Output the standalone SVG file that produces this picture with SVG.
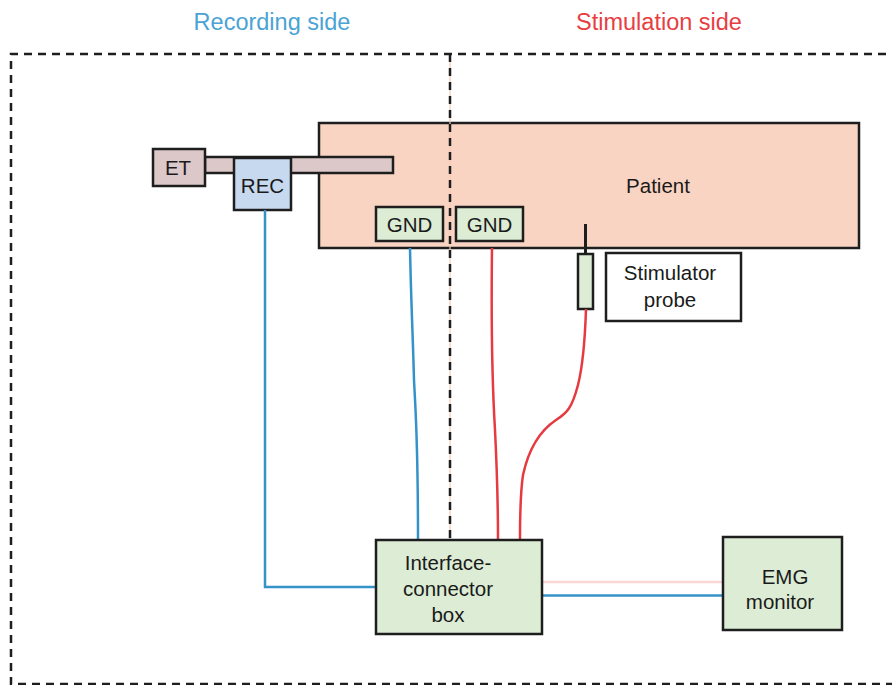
<svg xmlns="http://www.w3.org/2000/svg" width="892" height="685" viewBox="0 0 892 685">
  <style>
    .box { stroke: #1e1e1e; stroke-width: 2.5; }
    .lbl { font-family: "Liberation Sans", Arial, sans-serif; font-size: 20.5px; fill: #1a1a1a; text-anchor: middle; }
    .head { font-family: "Liberation Sans", Arial, sans-serif; font-size: 23.5px; text-anchor: middle; }
    .frame { fill: none; stroke: #1e1e1e; stroke-width: 2.5; stroke-dasharray: 8 6; }
    .blue { fill: none; stroke: #3592c8; stroke-width: 2.5; }
    .red { fill: none; stroke: #e63a40; stroke-width: 2.5; }
    .green { fill: #dcecd5; }
  </style>

  <rect width="892" height="685" fill="#ffffff"/>

  <!-- headings -->
  <text class="head" x="272" y="30" fill="#4aa3d4">Recording side</text>
  <text class="head" x="659" y="30" fill="#e83d42">Stimulation side</text>

  <!-- patient -->
  <g id="patient">
    <rect class="box" x="319" y="123" width="540" height="125" fill="#fad4c3"/>
    <text class="lbl" x="658" y="193">Patient</text>
  </g>

  <!-- endotracheal tube -->
  <g id="et">
    <rect class="box" x="205" y="157" width="188" height="16" fill="#dcc8c8"/>
    <rect class="box" x="153" y="149" width="52" height="37" fill="#dcc8c8"/>
    <text class="lbl" x="178" y="175">ET</text>
  </g>

  <g id="rec">
    <rect class="box" x="234" y="158" width="57" height="52" fill="#c6d9ee"/>
    <text class="lbl" x="262.5" y="193">REC</text>
  </g>

  <g id="gnd-rec">
    <rect class="box green" x="376" y="207" width="67" height="34"/>
    <text class="lbl" x="409.5" y="232">GND</text>
  </g>

  <g id="gnd-stim">
    <rect class="box green" x="456" y="207" width="67" height="34"/>
    <text class="lbl" x="489.5" y="232">GND</text>
  </g>

  <g id="probe">
    <line x1="585.5" y1="224" x2="585.5" y2="258" stroke="#1e1e1e" stroke-width="3"/>
    <rect class="box green" x="578" y="254" width="15" height="55"/>
  </g>

  <g id="probe-label">
    <rect class="box" x="606" y="253" width="135" height="68" fill="#ffffff"/>
    <text class="lbl" x="670" y="280">Stimulator</text>
    <text class="lbl" x="670" y="307">probe</text>
  </g>

  <!-- dashed frame and divider -->
  <g id="frame">
    <path class="frame" d="M 900 54 H 11 V 684 H 900"/>
    <line x1="450" y1="56" x2="450" y2="540" stroke="#f6c7b4" stroke-width="1.2"/>
    <line class="frame" x1="450" y1="54" x2="450" y2="540"/>
  </g>

  <!-- connectors -->
  <g id="connectors">
    <path class="blue" d="M 265 210 V 587 H 376"/>
    <path class="blue" d="M 410 248 C 411 300 413 340 414 380 C 416 420 418 440 418 540"/>
    <path class="red" d="M 492 248 C 491 330 492 380 495 430 C 497 470 498 500 498 540"/>
    <path class="red" d="M 586 309 C 585 340 583 365 578 385 C 572 408 567 413 556 420 C 538 432 528 452 523 475 C 520 495 520 515 520 540"/>
    <line x1="542" y1="582" x2="723" y2="582" stroke="#fbd6d6" stroke-width="2.5"/>
    <line class="blue" x1="542" y1="595.5" x2="723" y2="595.5"/>
  </g>

  <g id="interface">
    <rect class="box green" x="376" y="540" width="166" height="94"/>
    <text class="lbl" x="448" y="570">Interface-</text>
    <text class="lbl" x="448" y="596">connector</text>
    <text class="lbl" x="448" y="622">box</text>
  </g>

  <g id="emg">
    <rect class="box green" x="723" y="537" width="119" height="93"/>
    <text class="lbl" x="785" y="584">EMG</text>
    <text class="lbl" x="780" y="609">monitor</text>
  </g>
</svg>
